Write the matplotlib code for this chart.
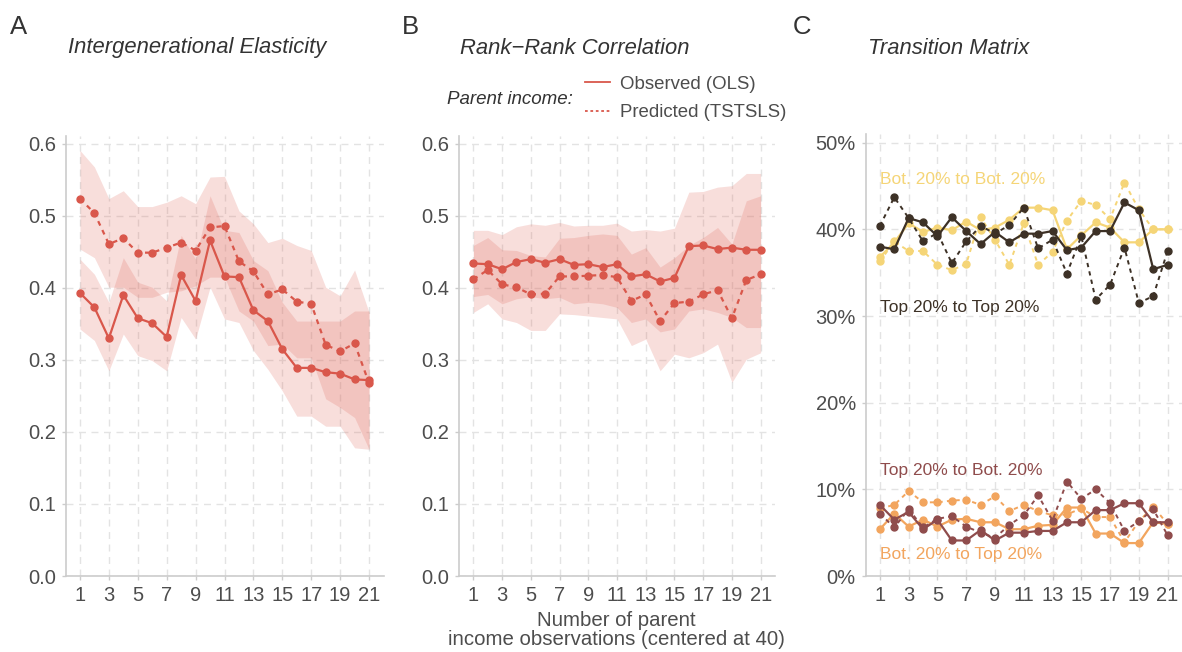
import matplotlib
matplotlib.use("Agg")
import matplotlib.pyplot as plt
from matplotlib.lines import Line2D
from matplotlib.ticker import FuncFormatter

plt.rcParams['font.family'] = ['Liberation Sans', 'DejaVu Sans']

n_obs = list(range(1, 22))

# Panel A - intergenerational elasticity
ige_obs = [0.393, 0.373, 0.330, 0.390, 0.358, 0.351, 0.332, 0.418, 0.382, 0.466, 0.416,
           0.415, 0.369, 0.354, 0.315, 0.289, 0.289, 0.283, 0.281, 0.273, 0.272]
ige_obs_lo = [0.343, 0.327, 0.285, 0.336, 0.306, 0.299, 0.285, 0.359, 0.329, 0.401, 0.357,
              0.352, 0.313, 0.287, 0.257, 0.222, 0.222, 0.208, 0.208, 0.178, 0.176]
ige_obs_hi = [0.440, 0.419, 0.380, 0.442, 0.408, 0.401, 0.382, 0.473, 0.440, 0.528, 0.480,
              0.477, 0.438, 0.424, 0.380, 0.354, 0.354, 0.354, 0.354, 0.368, 0.368]
ige_pred = [0.524, 0.504, 0.461, 0.469, 0.449, 0.449, 0.456, 0.463, 0.452, 0.484, 0.486,
            0.437, 0.423, 0.391, 0.398, 0.381, 0.378, 0.321, 0.312, 0.323, 0.268]
ige_pred_lo = [0.454, 0.442, 0.401, 0.401, 0.387, 0.387, 0.394, 0.396, 0.403, 0.415, 0.415,
               0.368, 0.354, 0.320, 0.322, 0.303, 0.303, 0.246, 0.234, 0.220, 0.176]
ige_pred_hi = [0.591, 0.568, 0.524, 0.535, 0.513, 0.513, 0.519, 0.528, 0.517, 0.554, 0.555,
               0.507, 0.489, 0.463, 0.469, 0.459, 0.452, 0.401, 0.389, 0.425, 0.366]

# Panel B - rank-rank correlation
rrc_obs = [0.434, 0.433, 0.426, 0.436, 0.440, 0.435, 0.440, 0.432, 0.433, 0.429, 0.433,
           0.416, 0.419, 0.409, 0.414, 0.458, 0.459, 0.454, 0.456, 0.453, 0.453]
rrc_obs_lo = [0.388, 0.391, 0.378, 0.385, 0.388, 0.385, 0.387, 0.378, 0.380, 0.378, 0.373,
              0.352, 0.357, 0.339, 0.343, 0.368, 0.371, 0.366, 0.359, 0.345, 0.345]
rrc_obs_hi = [0.480, 0.480, 0.474, 0.485, 0.489, 0.487, 0.491, 0.486, 0.487, 0.487, 0.490,
              0.479, 0.481, 0.479, 0.483, 0.533, 0.534, 0.540, 0.542, 0.559, 0.559]
rrc_pred = [0.412, 0.425, 0.405, 0.401, 0.391, 0.392, 0.416, 0.416, 0.417, 0.418, 0.415,
            0.382, 0.391, 0.354, 0.379, 0.381, 0.391, 0.397, 0.358, 0.411, 0.419]
rrc_pred_lo = [0.366, 0.378, 0.357, 0.352, 0.341, 0.341, 0.364, 0.363, 0.361, 0.359, 0.357,
               0.320, 0.329, 0.285, 0.308, 0.303, 0.310, 0.322, 0.269, 0.301, 0.310]
rrc_pred_hi = [0.459, 0.470, 0.453, 0.452, 0.445, 0.443, 0.469, 0.470, 0.473, 0.475, 0.473,
               0.447, 0.456, 0.429, 0.442, 0.459, 0.470, 0.484, 0.461, 0.521, 0.528]

# Panel C - transition matrix (%)
tt_obs = [38.0, 37.7, 41.3, 40.8, 39.2, 41.4, 39.8, 38.3, 39.7, 38.5, 39.5,
          39.5, 39.8, 37.6, 37.9, 39.8, 39.8, 43.1, 42.2, 35.4, 35.9]
tt_pred = [40.4, 43.7, 41.3, 38.6, 39.6, 36.1, 38.6, 40.4, 39.5, 40.5, 42.5,
           37.8, 38.8, 34.9, 39.2, 31.9, 33.6, 37.9, 31.5, 32.3, 37.5]
bb_obs = [36.8, 38.5, 40.7, 39.7, 40.2, 39.9, 40.9, 39.9, 40.2, 41.1, 42.5,
          42.5, 42.2, 37.7, 39.3, 40.8, 40.2, 38.5, 38.5, 40.0, 40.0]
bb_pred = [36.3, 38.6, 37.5, 37.5, 35.9, 35.3, 36.0, 41.4, 38.8, 35.9, 40.7,
           35.9, 37.4, 41.0, 43.3, 42.8, 41.2, 45.4, 42.3, 40.0, 40.0]
tb_obs = [8.2, 6.5, 7.4, 5.4, 6.5, 4.1, 4.1, 5.3, 4.1, 5.0, 5.0,
          5.2, 5.2, 6.2, 6.2, 7.6, 7.6, 8.4, 8.4, 6.2, 6.2]
tb_pred = [7.2, 5.6, 7.7, 5.6, 6.6, 6.9, 5.7, 5.0, 4.4, 5.9, 7.0,
           9.3, 6.4, 10.9, 8.9, 10.0, 8.4, 5.2, 6.3, 7.7, 4.7]
bt_obs = [5.4, 7.2, 5.7, 6.5, 5.7, 6.5, 6.6, 6.2, 6.2, 5.4, 5.4,
          5.8, 5.9, 7.9, 7.9, 4.9, 4.9, 3.8, 3.8, 6.2, 6.0]
bt_pred = [7.8, 8.2, 9.8, 8.5, 8.5, 8.7, 8.8, 8.2, 9.2, 7.5, 8.2,
           7.5, 7.0, 7.1, 7.8, 6.8, 6.8, 3.9, 6.3, 8.0, 6.0]

red = '#d9574b'
c_tt = '#3d3126'
c_bb = '#f5d577'
c_tb = '#8f4c4c'
c_bt = '#f2a55e'
dash = (0, (2.2, 2.2))
grey_txt = '#4d4d4d'

W, H = 1182, 652
fig = plt.figure(figsize=(W / 100, H / 100), dpi=100)


def make_ax(x0, x1, ytop):
    ax = fig.add_axes([x0 / W, (H - 576) / H, (x1 - x0) / W, (576 - ytop) / H])
    ax.set_xlim(0, 22)
    ax.set_xticks(range(1, 22, 2))
    for s in ['top', 'right']:
        ax.spines[s].set_visible(False)
    for s in ['left', 'bottom']:
        ax.spines[s].set_color('#cccccc')
        ax.spines[s].set_linewidth(1.2)
    ax.tick_params(colors='#cccccc', labelcolor=grey_txt, labelsize=14.5, length=3, width=1, pad=4)
    ax.grid(True, color='#e3e3e3', linestyle=(0, (5, 4)), linewidth=1)
    ax.set_axisbelow(True)
    return ax


axA = make_ax(65.5, 383.5, 136)
axB = make_ax(459, 775, 136)
axC = make_ax(865.5, 1182, 134)

for ax, obs, olo, ohi, pred, plo, phi in [
        (axA, ige_obs, ige_obs_lo, ige_obs_hi, ige_pred, ige_pred_lo, ige_pred_hi),
        (axB, rrc_obs, rrc_obs_lo, rrc_obs_hi, rrc_pred, rrc_pred_lo, rrc_pred_hi)]:
    ax.fill_between(n_obs, olo, ohi, color='#e06a5e', alpha=0.22, linewidth=0)
    ax.fill_between(n_obs, plo, phi, color='#e06a5e', alpha=0.22, linewidth=0)
    ax.plot(n_obs, obs, color=red, lw=1.6, marker='o', ms=5)
    ax.plot(n_obs, pred, color=red, lw=1.6, ls=dash, marker='o', ms=5)
    ax.set_ylim(0, 0.611)
    ax.set_yticks([0, 0.1, 0.2, 0.3, 0.4, 0.5, 0.6])
    ax.yaxis.set_major_formatter(FuncFormatter(lambda v, p: f'{v:.1f}'))

for obs, pred, col in [(bb_obs, bb_pred, c_bb), (bt_obs, bt_pred, c_bt),
                       (tb_obs, tb_pred, c_tb), (tt_obs, tt_pred, c_tt)]:
    axC.plot(n_obs, pred, color=col, lw=1.4, ls=dash, marker='o', ms=5)
    axC.plot(n_obs, obs, color=col, lw=1.6, marker='o', ms=5)
axC.set_ylim(0, 51)
axC.set_yticks([0, 10, 20, 30, 40, 50])
axC.yaxis.set_major_formatter(FuncFormatter(lambda v, p: f'{v:.0f}%'))

axC.text(1, 45.7, 'Bot. 20% to Bot. 20%', color=c_bb, fontsize=12.5, va='center')
axC.text(1, 31.0, 'Top 20% to Top 20%', color=c_tt, fontsize=12.5, va='center')
axC.text(1, 12.2, 'Top 20% to Bot. 20%', color=c_tb, fontsize=12.5, va='center')
axC.text(1, 2.5, 'Bot. 20% to Top 20%', color=c_bt, fontsize=12.5, va='center')

# panel letters and titles
for x, letter in [(10, 'A'), (402, 'B'), (793, 'C')]:
    fig.text(x / W, 1 - 27 / H, letter, fontsize=18.5, color='#333333', va='center')
for x, title in [(68, 'Intergenerational Elasticity'), (460, 'Rank\u2212Rank Correlation'),
                 (868, 'Transition Matrix')]:
    fig.text(x / W, 1 - 48 / H, title, fontsize=15.8, style='italic', color='#333333', va='center')

# legend
fig.text(447 / W, 1 - 99.5 / H, 'Parent income:', fontsize=13.5, style='italic', color='#333333', va='center')
handles = [Line2D([], [], color=red, lw=1.3),
           Line2D([], [], color=red, lw=1.3, ls=(0, (1.5, 1.5)))]
fig.legend(handles, ['Observed (OLS)', 'Predicted (TSTSLS)'], loc='center left',
           bbox_to_anchor=(585 / W, 1 - 98.5 / H), frameon=False, fontsize=13.4,
           handlelength=1.35, handletextpad=0.55, labelspacing=0.6, labelcolor=grey_txt,
           borderpad=0, borderaxespad=0)

fig.text(616 / W, 1 - 630 / H, 'Number of parent\nincome observations (centered at 40)',
         fontsize=14.7, color=grey_txt, ha='center', va='center', linespacing=1.05)

fig.savefig('out.png', dpi=100)
